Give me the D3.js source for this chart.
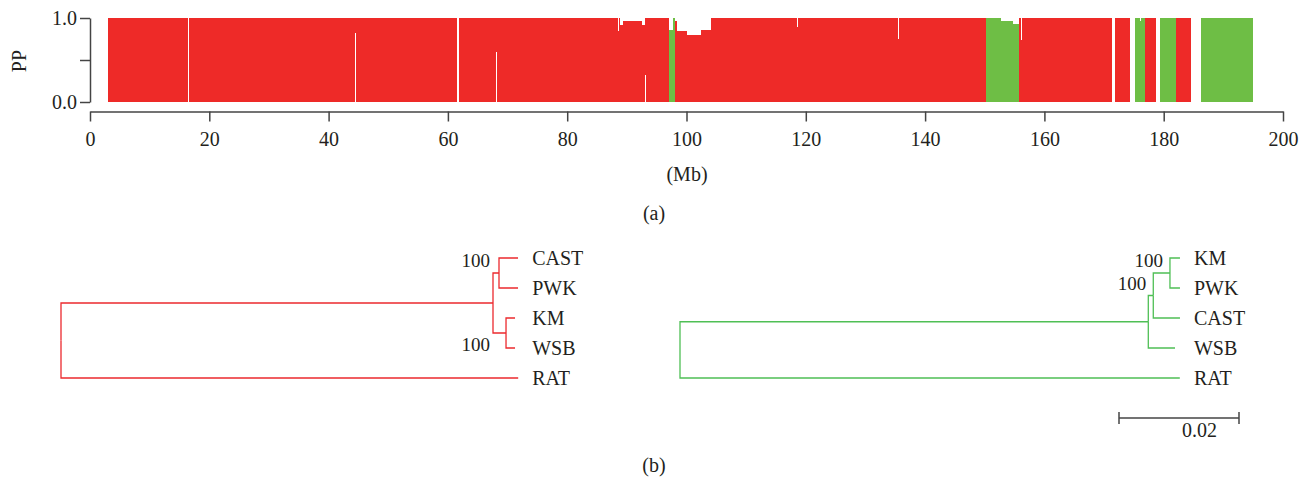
<!DOCTYPE html>
<html>
<head>
<meta charset="utf-8">
<script src="https://cdn.jsdelivr.net/npm/d3@7"></script>
<style>
  body { margin: 0; background: #fff; }
  svg { display: block; font-family: "Liberation Serif", "Times New Roman", serif; }
</style>
</head>
<body>
<div id="chart"></div>
<script>
// blocks along the chromosome: [start Mb, end Mb, posterior probability]
const redBlocks = [
  [3.0, 16.4, 1.0], [16.6, 61.6, 1.0], [61.8, 88.8, 1.0], [88.8, 89.3, 0.92],
  [89.3, 92.6, 0.97], [92.6, 93.0, 0.92], [93.0, 97.1, 1.0], [98.1, 98.4, 0.96],
  [98.4, 100.1, 0.84], [100.1, 102.4, 0.80], [102.4, 104.1, 0.86], [104.1, 150.2, 1.0],
  [155.7, 171.3, 1.0], [171.8, 174.3, 1.0], [176.9, 178.7, 1.0], [182.0, 184.6, 1.0]
];
const greenBlocks = [
  [97.1, 97.7, 0.86], [97.7, 98.1, 1.0], [150.2, 152.7, 1.0], [152.7, 154.7, 0.97],
  [154.7, 155.7, 0.93], [175.2, 176.9, 1.0], [179.4, 182.0, 1.0], [186.3, 195.0, 1.0]
];
// thin uncovered slivers: [Mb, pp from, pp to]
const notches = [
  [44.4, 0, 0.82], [68.0, 0, 0.59], [88.5, 0.85, 1.0], [93.0, 0, 0.32],
  [118.5, 0.89, 1.0], [135.5, 0.75, 1.0], [156.0, 0.74, 1.0], [176.1, 0.97, 1.0]
];
const xTicks = [0, 20, 40, 60, 80, 100, 120, 140, 160, 180, 200];
const yTicks = [0, 0.5, 1];
const yTickLabels = ['0.0', '', '1.0'];

// trees (b), branch lengths in substitutions/site, internal labels = bootstrap
const leftNewick = '(((CAST:0.00317,PWK:0.00317)100:0.0010,(KM:0.0015,WSB:0.0015)100:0.00217):0.0720,RAT:0.0762);';
const rightNewick = '((((KM:0.00167,PWK:0.00167)100:0.00278,CAST:0.00445)100:0.00083,WSB:0.00445):0.07805,RAT:0.0833);';
const scaleBarValue = 0.02;

const W = 1311, H = 481;
const RED = '#ee2a28', GREEN = '#6ebe45';
const TEXT = '#231f20', AXIS = '#444';

const svg = d3.select('#chart').append('svg').attr('width', W).attr('height', H);

// ---- (a) posterior probability along chromosome
const x = d3.scaleLinear().domain([0, 200]).range([90, 1283]);
const y = d3.scaleLinear().domain([0, 1]).range([102, 18]);

const bars = svg.append('g').attr('shape-rendering', 'crispEdges');
function drawBlocks(data, color) {
  bars.append('g').selectAll('rect').data(data).join('rect')
    .attr('x', d => x(d[0]))
    .attr('width', d => x(d[1]) - x(d[0]))
    .attr('y', d => y(d[2]))
    .attr('height', d => y(0) - y(d[2]))
    .attr('fill', color);
}
drawBlocks(redBlocks, RED);
drawBlocks(greenBlocks, GREEN);
bars.append('g').selectAll('rect').data(notches).join('rect')
  .attr('x', d => x(d[0]))
  .attr('width', 1)
  .attr('y', d => y(d[2]))
  .attr('height', d => y(d[1]) - y(d[2]))
  .attr('fill', '#fff');

const xAxis = svg.append('g').attr('transform', 'translate(0,111.5)')
  .call(d3.axisBottom(x).tickValues(xTicks).tickSize(10).tickSizeOuter(0).tickPadding(10));
const yAxis = svg.append('g').attr('transform', 'translate(90,0)')
  .call(d3.axisLeft(y).tickValues(yTicks).tickFormat((d, i) => yTickLabels[i]).tickSize(10).tickSizeOuter(0).tickPadding(3));
[xAxis, yAxis].forEach(a => {
  a.attr('font-family', null).attr('font-size', 20);
  a.select('.domain').attr('stroke', AXIS).attr('stroke-width', 1.5);
  a.selectAll('.tick line').attr('stroke', AXIS).attr('stroke-width', 1.5);
  a.selectAll('.tick text').attr('fill', TEXT);
});

svg.append('text').attr('transform', 'translate(26,61) rotate(-90)')
  .attr('text-anchor', 'middle').attr('font-size', 20).attr('fill', TEXT).text('PP');
svg.append('text').attr('x', 687).attr('y', 181)
  .attr('text-anchor', 'middle').attr('font-size', 20).attr('fill', TEXT).text('(Mb)');
svg.append('text').attr('x', 654).attr('y', 220)
  .attr('text-anchor', 'middle').attr('font-size', 20).attr('fill', TEXT).text('(a)');
svg.append('text').attr('x', 654).attr('y', 472)
  .attr('text-anchor', 'middle').attr('font-size', 20).attr('fill', TEXT).text('(b)');

// ---- (b) trees
function parseNewick(s) {
  let i = 0;
  function node() {
    const n = { name: '', length: 0 };
    if (s[i] === '(') {
      n.children = [];
      i++;
      n.children.push(node());
      while (s[i] === ',') { i++; n.children.push(node()); }
      i++; // ')'
    }
    let tok = '';
    while (i < s.length && !',():;'.includes(s[i])) tok += s[i++];
    n.name = tok;
    if (s[i] === ':') {
      i++;
      let num = '';
      while (i < s.length && !',();'.includes(s[i])) num += s[i++];
      n.length = +num;
    }
    return n;
  }
  return node();
}

const brLen = d3.scaleLinear().domain([0, scaleBarValue]).range([0, 120]);

function drawTree(newick, rootX, color, boot) {
  const root = d3.hierarchy(parseNewick(newick));
  const leaves = root.leaves();
  const tipY = d3.scalePoint().domain(leaves.map(d => d.data.name)).range([258, 378]);
  root.each(d => { d.dist = d.parent ? d.parent.dist + d.data.length : 0; d.x = rootX + brLen(d.dist); });
  root.eachAfter(d => {
    d.y = d.children ? (d.children[0].y + d.children[d.children.length - 1].y) / 2 : tipY(d.data.name);
  });
  const g = svg.append('g');
  g.selectAll('path').data(root.descendants().filter(d => d.parent)).join('path')
    .attr('d', d => `M${d.parent.x},${d.parent.y}V${d.y}H${d.x}`)
    .attr('fill', 'none').attr('stroke', color).attr('stroke-width', 1.3);
  const labelX = d3.max(leaves, d => d.x) + 14;
  g.selectAll('text.tip').data(leaves).join('text').attr('class', 'tip')
    .attr('x', labelX).attr('y', d => d.y).attr('dy', '0.35em')
    .attr('font-size', 20).attr('fill', TEXT).text(d => d.data.name);
  const supported = root.descendants().filter(d => d.children && d.data.name);
  g.selectAll('text.boot').data(supported).join('text').attr('class', 'boot')
    .attr('x', d => (boot.atParent ? d.parent.x : d.x) + boot.dx)
    .attr('y', d => d.y < d.parent.y ? d.y - 6 : d.y + 18)
    .attr('text-anchor', 'end').attr('font-size', 19).attr('fill', TEXT)
    .text(d => d.data.name);
}

drawTree(leftNewick, 61, '#ec2a2e', { atParent: true, dx: -3 });
drawTree(rightNewick, 680, '#4fbf55', { atParent: false, dx: -7 });

// scale bar
const sb = svg.append('g').attr('transform', 'translate(1119,418)')
  .attr('stroke', AXIS).attr('stroke-width', 1.5);
sb.append('line').attr('x1', 0).attr('x2', brLen(scaleBarValue));
sb.append('line').attr('y1', -6).attr('y2', 6);
sb.append('line').attr('x1', brLen(scaleBarValue)).attr('x2', brLen(scaleBarValue)).attr('y1', -6).attr('y2', 6);
svg.append('text').attr('x', 1182).attr('y', 437).attr('font-size', 20).attr('fill', TEXT).text(scaleBarValue);
</script>
</body>
</html>
